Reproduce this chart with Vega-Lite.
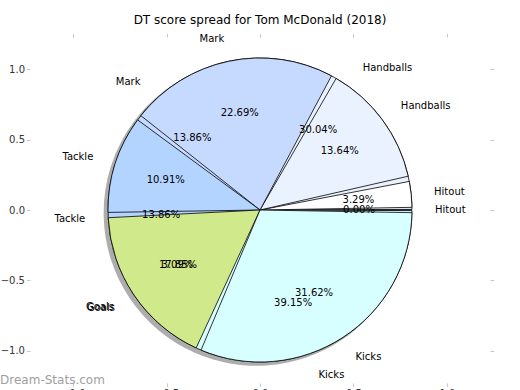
{
  "$schema": "https://vega.github.io/schema/vega-lite/v6.json",
  "width": 460,
  "height": 346,
  "autosize": "none",
  "padding": {"left": 30, "top": 37, "right": 30, "bottom": 7},
  "background": "white",
  "title": {"text": "DT score spread for Tom McDonald (2018)", "font": "DejaVu Sans", "fontSize": 12, "fontWeight": "normal", "color": "black", "offset": 6},
  "config": {"view": {"stroke": null}},
  "datasets": {
    "top": [
      {"cat": "Hitout", "idx": 1, "value": 3.29},
      {"cat": "Handballs", "idx": 2, "value": 13.64},
      {"cat": "Mark", "idx": 3, "value": 22.69},
      {"cat": "Tackle", "idx": 4, "value": 10.91},
      {"cat": "Goals", "idx": 5, "value": 17.85},
      {"cat": "Kicks", "idx": 6, "value": 31.62}
    ],
    "bottom": [
      {"cat": "Hitout", "idx": 1, "value": 0.0},
      {"cat": "Handballs", "idx": 2, "value": 30.04},
      {"cat": "Mark", "idx": 3, "value": 13.86},
      {"cat": "Tackle", "idx": 4, "value": 13.86},
      {"cat": "Goals", "idx": 5, "value": 3.09},
      {"cat": "Kicks", "idx": 6, "value": 39.15}
    ],
    "mark": [
      {"label": "Dream-Stats.com"}
    ]
  },
  "layer": [
    {
      "mark": {"type": "point", "opacity": 0},
      "encoding": {
        "x": {"datum": 0, "type": "quantitative", "scale": {"domain": [-1.23, 1.23], "nice": false, "zero": false},
          "axis": {"orient": "bottom", "title": null, "values": [-1, -0.5, 0, 0.5, 1], "format": ".1f", "domain": false, "grid": false, "tickColor": "#c8c8c8", "tickSize": 3.5, "labelFont": "DejaVu Sans", "labelFontSize": 10, "labelColor": "#333", "labelPadding": 2}},
        "y": {"datum": 0, "type": "quantitative", "scale": {"domain": [-1.23, 1.23], "nice": false, "zero": false},
          "axis": {"orient": "left", "title": null, "values": [-1, -0.5, 0, 0.5, 1], "format": ".1f", "domain": false, "grid": false, "tickColor": "#c8c8c8", "tickSize": 3.5, "labelFont": "DejaVu Sans", "labelFontSize": 10, "labelColor": "#333", "labelPadding": 2}}
      }
    },
    {
      "mark": {"type": "point", "opacity": 0},
      "encoding": {
        "x": {"datum": 0, "type": "quantitative", "axis": {"orient": "top", "title": null, "values": [-1, -0.5, 0, 0.5, 1], "labels": false, "domain": false, "grid": false, "tickColor": "#c8c8c8", "tickSize": 3.5}},
        "y": {"datum": 0, "type": "quantitative", "axis": {"orient": "right", "title": null, "values": [-1, -0.5, 0, 0.5, 1], "labels": false, "domain": false, "grid": false, "tickColor": "#c8c8c8", "tickSize": 3.5}}
      }
    },
    {
      "data": {"name": "top"},
      "mark": {"type": "arc", "outerRadius": 153, "color": "#777777", "opacity": 0.6},
      "encoding": {
        "x": {"datum": -0.018, "type": "quantitative", "axis": null},
        "y": {"datum": -0.02, "type": "quantitative", "axis": null},
        "theta": {"field": "value", "type": "quantitative", "stack": true, "scale": {"range": [1.5707963, -4.712389]}},
        "order": {"field": "idx"}
      }
    },
    {
      "data": {"name": "bottom"},
      "mark": {"type": "arc", "outerRadius": 152, "stroke": "black", "strokeWidth": 0.8, "padAngle": 0.008},
      "encoding": {
        "theta": {"field": "value", "type": "quantitative", "stack": true},
        "order": {"field": "idx"},
        "color": {"field": "cat", "type": "nominal", "legend": null, "scale": {"domain": ["Hitout", "Handballs", "Mark", "Tackle", "Goals", "Kicks"], "range": ["#ffffff", "#eaf2ff", "#c6d9ff", "#b3d4ff", "#d0e98a", "#d8ffff"]}}
      }
    },
    {
      "data": {"name": "top"},
      "mark": {"type": "arc", "outerRadius": 152, "stroke": "black", "strokeWidth": 0.8, "padAngle": 0.035},
      "encoding": {
        "theta": {"field": "value", "type": "quantitative", "stack": true},
        "order": {"field": "idx"},
        "color": {"field": "cat", "type": "nominal", "legend": null}
      }
    },
    {
      "data": {"name": "bottom"},
      "transform": [{"calculate": "format(datum.value, '.2f') + '%'", "as": "pct"}],
      "mark": {"type": "text", "radius": 99, "font": "DejaVu Sans", "fontSize": 10, "color": "black"},
      "encoding": {
        "theta": {"field": "value", "type": "quantitative", "stack": true},
        "order": {"field": "idx"},
        "text": {"field": "pct"}
      }
    },
    {
      "data": {"name": "top"},
      "transform": [{"calculate": "format(datum.value, '.2f') + '%'", "as": "pct"}],
      "mark": {"type": "text", "radius": 99, "font": "DejaVu Sans", "fontSize": 10, "color": "black"},
      "encoding": {
        "theta": {"field": "value", "type": "quantitative", "stack": true},
        "order": {"field": "idx"},
        "text": {"field": "pct"}
      }
    },
    {
      "data": {"name": "bottom"},
      "mark": {"type": "text", "radius": 175, "align": "left", "baseline": "middle", "font": "DejaVu Sans", "fontSize": 10, "color": "black"},
      "encoding": {
        "theta": {"field": "value", "type": "quantitative", "stack": true},
        "order": {"field": "idx"},
        "text": {"field": "cat"},
        "opacity": {"condition": {"test": "indexof(['Hitout','Handballs','Kicks'], datum.cat) >= 0", "value": 1}, "value": 0}
      }
    },
    {
      "data": {"name": "bottom"},
      "mark": {"type": "text", "radius": 175, "align": "right", "baseline": "middle", "font": "DejaVu Sans", "fontSize": 10, "color": "black"},
      "encoding": {
        "theta": {"field": "value", "type": "quantitative", "stack": true},
        "order": {"field": "idx"},
        "text": {"field": "cat"},
        "opacity": {"condition": {"test": "indexof(['Mark','Tackle','Goals'], datum.cat) >= 0", "value": 1}, "value": 0}
      }
    },
    {
      "data": {"name": "top"},
      "mark": {"type": "text", "radius": 175, "align": "left", "baseline": "middle", "font": "DejaVu Sans", "fontSize": 10, "color": "black"},
      "encoding": {
        "theta": {"field": "value", "type": "quantitative", "stack": true},
        "order": {"field": "idx"},
        "text": {"field": "cat"},
        "opacity": {"condition": {"test": "indexof(['Hitout','Handballs','Kicks'], datum.cat) >= 0", "value": 1}, "value": 0}
      }
    },
    {
      "data": {"name": "top"},
      "mark": {"type": "text", "radius": 175, "align": "right", "baseline": "middle", "font": "DejaVu Sans", "fontSize": 10, "color": "black"},
      "encoding": {
        "theta": {"field": "value", "type": "quantitative", "stack": true},
        "order": {"field": "idx"},
        "text": {"field": "cat"},
        "opacity": {"condition": {"test": "indexof(['Mark','Tackle','Goals'], datum.cat) >= 0", "value": 1}, "value": 0}
      }
    },
    {
      "data": {"name": "mark"},
      "mark": {"type": "text", "align": "left", "baseline": "middle", "font": "DejaVu Sans", "fontSize": 12, "color": "#a0a0a0"},
      "encoding": {
        "x": {"datum": -1.39, "type": "quantitative", "axis": null},
        "y": {"datum": -1.208, "type": "quantitative", "axis": null},
        "text": {"field": "label"}
      }
    }
  ],
  "resolve": {"axis": {"x": "independent", "y": "independent"}}
}
